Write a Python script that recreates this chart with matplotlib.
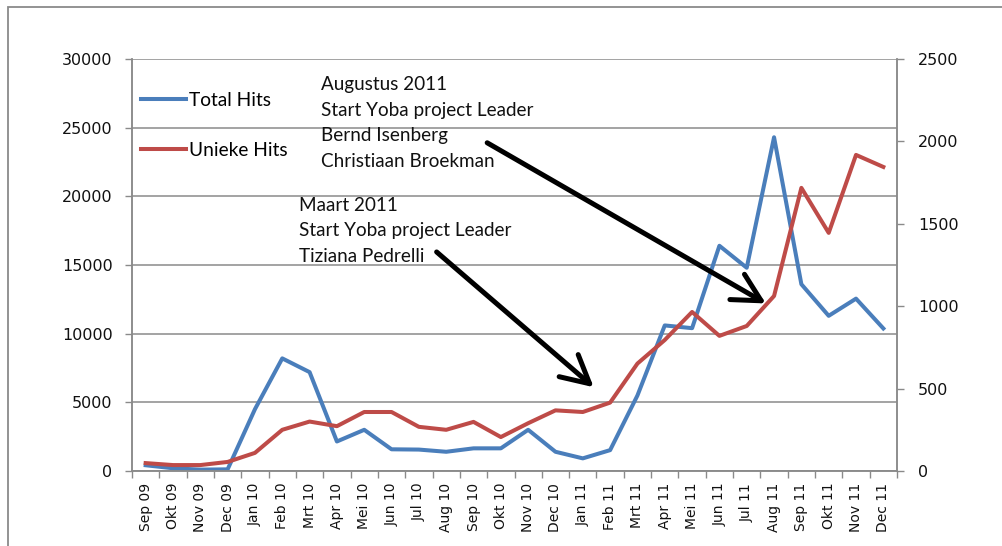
import matplotlib.pyplot as plt
from matplotlib.patches import Rectangle
import numpy as np

months = ['Sep 09', 'Okt 09', 'Nov 09', 'Dec 09', 'Jan 10', 'Feb 10', 'Mrt 10',
          'Apr 10', 'Mei 10', 'Jun 10', 'Jul 10', 'Aug 10', 'Sep 10', 'Okt 10',
          'Nov 10', 'Dec 10', 'Jan 11', 'Feb 11', 'Mrt 11', 'Apr 11', 'Mei 11',
          'Jun 11', 'Jul 11', 'Aug 11', 'Sep 11', 'Okt 11', 'Nov 11', 'Dec 11']
total_hits = [420, 200, 100, 120, 4500, 8200, 7200, 2150, 3000, 1580,
              1560, 1400, 1650, 1650, 3000, 1400, 920, 1520, 5500, 10600,
              10400, 16400, 14800, 24300, 13600, 11300, 12550, 10380]
unieke_hits = [48, 36, 36, 55, 110, 250, 300, 272, 358, 358,
               268, 250, 298, 206, 290, 368, 358, 415, 652, 795,
               965, 820, 880, 1062, 1718, 1445, 1918, 1845]

note_aug = ['Augustus 2011', 'Start Yoba project Leader', 'Bernd Isenberg', 'Christiaan Broekman']
note_mrt = ['Maart 2011', 'Start Yoba project Leader', 'Tiziana Pedrelli']

BLUE = '#4a7ebb'
RED = '#be4b48'
GRID = '#8a8a8a'

fig = plt.figure(figsize=(10.03, 5.46), dpi=100)
ax = fig.add_axes([132 / 1003, 75 / 546, 765 / 1003, 412 / 546])
ax2 = ax.twinx()

x = np.arange(len(months))
l1, = ax.plot(x, total_hits, color=BLUE, lw=2.9, solid_joinstyle='round', label='Total Hits')
l2, = ax2.plot(x, unieke_hits, color=RED, lw=2.9, solid_joinstyle='round', label='Unieke Hits')

ax.set_xlim(-0.5, len(months) - 0.5)
ax.set_ylim(0, 30000)
ax2.set_ylim(0, 2500)
ax.set_yticks(np.arange(0, 30001, 5000))
ax2.set_yticks(np.arange(0, 2501, 500))
ax.yaxis.grid(True, color=GRID, lw=1.1)
ax.set_axisbelow(True)

ax.set_xticks(x)
ax.set_xticklabels(months, rotation=90, fontsize=10, color='#111111')
ax.set_xticks(np.arange(-0.5, len(months)), minor=True)
ax.tick_params(axis='x', which='major', length=0, pad=8.5)
ax.tick_params(axis='x', which='minor', length=5, color=GRID, width=1)
ax.tick_params(axis='y', length=5, color=GRID, width=1, pad=9, labelsize=11.5, labelcolor='#111111')
ax2.tick_params(axis='y', length=5, color=GRID, width=1, pad=10, labelsize=11.5, labelcolor='#111111')

for a in (ax, ax2):
    for s in a.spines.values():
        s.set_color(GRID)
        s.set_linewidth(1.1)
    a.spines['top'].set_visible(False)

leg = ax2.legend(handles=[l1, l2], loc='upper left', bbox_to_anchor=(0.0118, 0.92),
                 frameon=False, borderpad=0, borderaxespad=0, handlelength=2.35,
                 handletextpad=0.15, labelspacing=1.72,
                 prop={'family': 'Lato', 'size': 13.8})

# notes, placed on the left (Total Hits) scale; y is the last line's baseline
ax.text(6.4, 22130, '\n'.join(note_aug), fontsize=13.6, family='Lato',
        va='baseline', ha='left', linespacing=1.62, color='#111111')
ax.text(5.6, 15215, '\n'.join(note_mrt), fontsize=13.6, family='Lato',
        va='baseline', ha='left', linespacing=1.62, color='#111111')

arrow = dict(arrowstyle='->,head_length=0.95,head_width=0.5', lw=3.6,
             color='black', mutation_scale=21, shrinkA=0, shrinkB=0)
ax.annotate('', xy=(22.7, 12200), xytext=(12.5, 23900), arrowprops=arrow)
ax.annotate('', xy=(16.4, 6100), xytext=(10.65, 15950), arrowprops=arrow)

fig.patches.append(Rectangle((8 / 1003, -0.1), 1.2, 1.087, transform=fig.transFigure,
                             fill=False, edgecolor='#8a8a8a', lw=1.3, zorder=-1))

fig.savefig('out.png', dpi=100)
